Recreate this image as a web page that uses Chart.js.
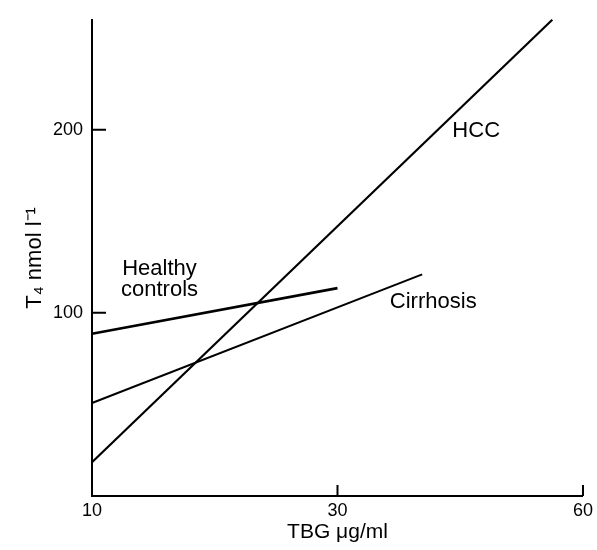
<!DOCTYPE html>
<html>
<head>
<meta charset="utf-8">
<script src="https://cdn.jsdelivr.net/npm/chart.js@4/dist/chart.umd.min.js"></script>
<style>
  html, body { margin: 0; padding: 0; background: #fff; }
  #wrap { width: 597px; height: 550px; }
</style>
</head>
<body>
<div id="wrap"><canvas id="chart"></canvas></div>
<script>
// regression lines, TBG (x) vs T4 (y)
const healthyTBG = [10, 30];
const healthyT4 = [88.6, 113.5];
const cirrhosisTBG = [10, 36.9];
const cirrhosisT4 = [50.8, 121];
const hccTBG = [10, 47.5];
const hccT4 = [18.4, 260];

// axis ticks as printed
const xTickValues = [10, 30, 50];
const xTickLabels = ['10', '30', '60'];
const yTickValues = [100, 200];

const FONT = "'Liberation Sans', Arial, Helvetica, sans-serif";
const INK = '#000';

// where the line names sit (data units)
const lineLabels = [
  { text: ['Healthy', 'controls'], x: 15.5, y: 118.4 },
  { text: ['HCC'], x: 41.3, y: 199.5 },
  { text: ['Cirrhosis'], x: 37.8, y: 106 },
];

const toPoints = (xs, ys) => xs.map((x, i) => ({ x, y: ys[i] }));

function lineDataset(label, xs, ys, width) {
  return {
    label,
    data: toPoints(xs, ys),
    showLine: true,
    borderColor: INK,
    borderWidth: width,
    pointRadius: 0,
    fill: false,
    clip: false,
  };
}

// tick marks drawn inside the plot, like the original
const inwardTicks = {
  id: 'inwardTicks',
  afterDatasetsDraw(chart) {
    const { ctx, chartArea, scales } = chart;
    ctx.save();
    ctx.strokeStyle = INK;
    ctx.lineWidth = 2;
    ctx.beginPath();
    xTickValues.slice(1).forEach((v) => {
      const px = scales.x.getPixelForValue(v);
      ctx.moveTo(px, chartArea.bottom);
      ctx.lineTo(px, chartArea.bottom - 11);
    });
    yTickValues.forEach((v) => {
      const py = scales.y.getPixelForValue(v);
      ctx.moveTo(chartArea.left, py);
      ctx.lineTo(chartArea.left + 14, py);
    });
    ctx.stroke();
    ctx.restore();
  },
};

const lineNames = {
  id: 'lineNames',
  afterDatasetsDraw(chart) {
    const { ctx, scales } = chart;
    ctx.save();
    ctx.fillStyle = INK;
    ctx.font = `22px ${FONT}`;
    ctx.textAlign = 'center';
    ctx.textBaseline = 'middle';
    lineLabels.forEach(({ text, x, y }) => {
      const px = scales.x.getPixelForValue(x);
      const py = scales.y.getPixelForValue(y);
      const lh = 21;
      text.forEach((t, i) => {
        ctx.fillText(t, px, py + (i - (text.length - 1) / 2) * lh);
      });
    });
    ctx.restore();
  },
};

new Chart(document.getElementById('chart'), {
  type: 'scatter',
  data: {
    datasets: [
      lineDataset('Healthy controls', healthyTBG, healthyT4, 2.6),
      lineDataset('Cirrhosis', cirrhosisTBG, cirrhosisT4, 2),
      lineDataset('HCC', hccTBG, hccT4, 2.2),
    ],
  },
  options: {
    responsive: true,
    maintainAspectRatio: false,
    animation: false,
    layout: { padding: { top: 15, right: 12, left: 0, bottom: 0 } },
    plugins: { legend: { display: false }, tooltip: { enabled: false } },
    scales: {
      x: {
        type: 'linear',
        min: 10,
        max: 50,
        afterBuildTicks: (s) => { s.ticks = xTickValues.map((v) => ({ value: v })); },
        afterFit: (s) => { s.height = 54; },
        grid: { display: false, drawTicks: false },
        border: { display: true, color: INK, width: 2 },
        ticks: {
          color: INK,
          padding: 4,
          maxRotation: 0,
          font: { family: FONT, size: 18 },
          callback: (v) => xTickLabels[xTickValues.indexOf(v)],
        },
        title: {
          display: true,
          text: 'TBG μg/ml',
          color: INK,
          font: { family: FONT, size: 21 },
          padding: { top: 0, bottom: 5 },
        },
      },
      y: {
        type: 'linear',
        min: 0,
        max: 260,
        afterBuildTicks: (s) => { s.ticks = yTickValues.map((v) => ({ value: v })); },
        afterFit: (s) => { s.width = 92; },
        grid: { display: false, drawTicks: false },
        border: { display: true, color: INK, width: 2 },
        ticks: {
          color: INK,
          padding: 9,
          font: { family: FONT, size: 18 },
        },
        title: {
          display: true,
          text: 'T₄ nmol l⁻¹',
          color: INK,
          font: { family: FONT, size: 22 },
          padding: { top: 22, bottom: 0 },
        },
      },
    },
  },
  plugins: [inwardTicks, lineNames],
});
</script>
</body>
</html>
